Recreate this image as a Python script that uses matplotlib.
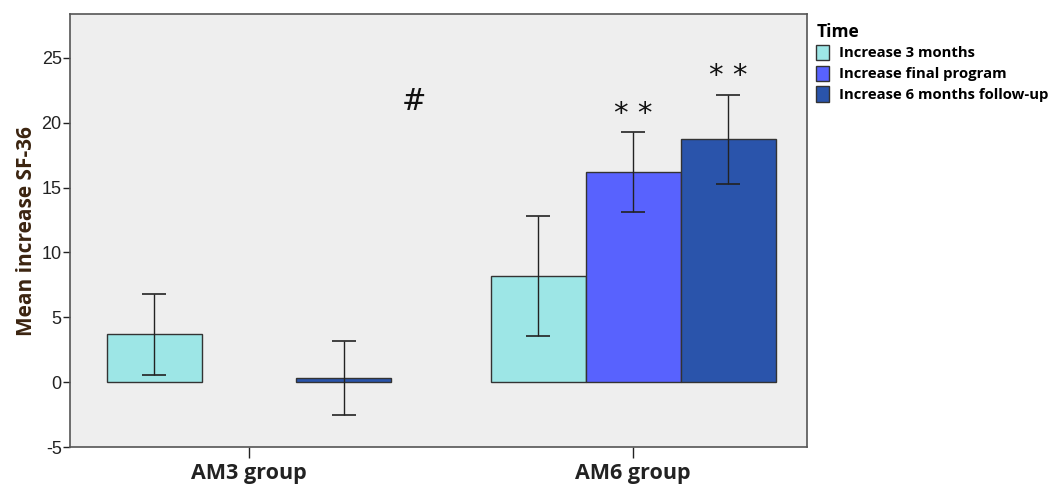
import numpy as np
import matplotlib
matplotlib.use("Agg")
import matplotlib.pyplot as plt

groups = ["AM3 group", "AM6 group"]
series = ["Increase 3 months", "Increase final program", "Increase 6 months follow-up"]
colors = ["#9de6e6", "#5862fe", "#2a54ab"]

# mean increase per series (rows) for each group (cols); nan = no bar
means = [
    [3.7, 8.2],
    [np.nan, 16.2],
    [0.3, 18.7],
]
err_low = [
    [0.6, 3.6],
    [np.nan, 13.1],
    [-2.5, 15.3],
]
err_high = [
    [6.8, 12.8],
    [np.nan, 19.3],
    [3.15, 22.1],
]

# significance marks: (group index, series index, y, text)
marks = [(1, 1, 20.7, "* *"), (1, 2, 23.6, "* *")]
hash_mark = (0.43, 21.6, "#")

plt.rcParams["font.family"] = ["Liberation Sans", "DejaVu Sans"]
plt.rcParams["axes.unicode_minus"] = False

fig = plt.figure(figsize=(10.48, 4.84), dpi=100)
ax = fig.add_axes([0.0668, 0.0758, 0.7035, 0.8952])
ax.set_facecolor("#eeeeee")

x = np.arange(len(groups))
width = 0.247
for i, name in enumerate(series):
    pos = x + (i - 1) * width
    m = np.array(means[i], dtype=float)
    lo = np.array(err_low[i], dtype=float)
    hi = np.array(err_high[i], dtype=float)
    ax.bar(pos, m, width, color=colors[i], edgecolor="#333333", linewidth=1.0,
           label=name, zorder=2)
    ax.errorbar(pos, m, yerr=[m - lo, hi - m], fmt="none", ecolor="#222222",
                elinewidth=1.0, capsize=8.5, capthick=1.2, zorder=3)

for g, s, y, txt in marks:
    ax.text(x[g] + (s - 1) * width, y, txt, ha="center", va="center",
            fontsize=21, color="#111111", family="DejaVu Sans")
ax.text(hash_mark[0], hash_mark[1], hash_mark[2], ha="center", va="center",
        fontsize=21, style="italic", color="#111111", family="DejaVu Serif")

ax.set_xlim(-0.466, 1.453)
ax.set_ylim(-5, 28.36)
ax.set_yticks([-5, 0, 5, 10, 15, 20, 25])
ax.set_xticks(x)
ax.set_xticklabels(groups, fontsize=15.5, fontweight="bold", family="Open Sans")
ax.tick_params(axis="y", labelsize=13, length=5, width=1, pad=1, colors="#222222")
ax.tick_params(axis="x", length=8, width=1, pad=3, colors="#222222")
for sp in ax.spines.values():
    sp.set_color("#555555")
    sp.set_linewidth(1.2)

ax.set_ylabel("Mean increase SF-36", fontsize=15, fontweight="bold",
              family="Open Sans", color="#3b2410", labelpad=3)

leg = ax.legend(loc="upper left", bbox_to_anchor=(0.769, 0.975),
                bbox_transform=fig.transFigure, frameon=False, title="Time",
                prop={"family": "Open Sans", "weight": "bold", "size": 10.7},
                title_fontproperties={"family": "Open Sans", "weight": "bold", "size": 12.5},
                alignment="left", handlelength=0.85, handleheight=1.2,
                handletextpad=0.7, labelspacing=0.35, borderpad=0.2)
leg._legend_box.sep = 3
for h in leg.legend_handles:
    h.set_edgecolor("#333333")

fig.savefig("out.png", dpi=100, facecolor="white")
